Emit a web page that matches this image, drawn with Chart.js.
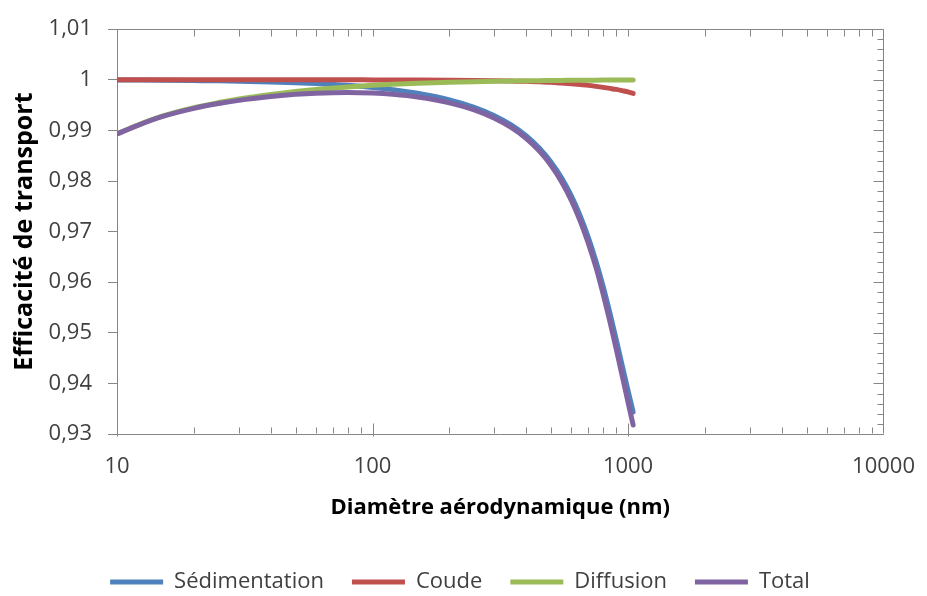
<!DOCTYPE html>
<html>
<head>
<meta charset="utf-8">
<script src="https://cdn.jsdelivr.net/npm/chart.js@4.4.1/dist/chart.umd.min.js"></script>
<style>
  html, body { margin: 0; padding: 0; background: #fff; }
  #wrap { width: 927px; height: 596px; }
</style>
</head>
<body>
<div id="wrap"><canvas id="chart" width="927" height="596"></canvas></div>
<script>
// diamètre aérodynamique (nm) and transport efficiencies
const diameters = [10, 12, 15, 20, 25, 30, 40, 50, 60, 80, 100, 120, 150, 200, 250, 300, 350, 400, 450, 500, 550, 600, 650, 700, 750, 800, 850, 900, 950, 1000, 1047];
const sedimentation = [0.99997, 0.99995, 0.99991, 0.99985, 0.9998, 0.99973, 0.99958, 0.99943, 0.99926, 0.9989, 0.9985, 0.99806, 0.99735, 0.99604, 0.99457, 0.99291, 0.99104, 0.9889, 0.98647, 0.98372, 0.98059, 0.97706, 0.97311, 0.96877, 0.96406, 0.95905, 0.95382, 0.94854, 0.94344, 0.93859, 0.93435];
const coude = [1, 1, 1, 1, 1, 1, 1, 1, 1, 1, 0.99998, 0.99997, 0.99995, 0.9999, 0.99985, 0.9998, 0.99975, 0.9997, 0.9996, 0.9995, 0.99935, 0.9992, 0.99905, 0.9989, 0.9987, 0.9985, 0.9983, 0.9981, 0.99785, 0.9976, 0.9973];
const diffusion = [0.9893, 0.991, 0.9928, 0.9945, 0.9955, 0.9962, 0.9971, 0.9977, 0.9981, 0.9986, 0.9989, 0.9991, 0.9993, 0.9995, 0.99962, 0.9997, 0.99976, 0.9998, 0.99983, 0.99986, 0.99988, 0.9999, 0.99991, 0.99992, 0.99993, 0.99994, 0.99995, 0.99995, 0.99996, 0.99996, 0.99996];
const total = [0.9893, 0.99095, 0.99271, 0.99435, 0.9953, 0.99593, 0.99668, 0.99713, 0.99736, 0.9975, 0.99738, 0.99713, 0.9966, 0.99544, 0.99404, 0.99241, 0.99055, 0.9884, 0.9859, 0.98308, 0.97982, 0.97618, 0.9721, 0.96762, 0.96284, 0.95755, 0.95215, 0.94669, 0.94137, 0.9363, 0.93179];

const seriesNames = ['Sédimentation', 'Coude', 'Diffusion', 'Total'];
const xTicks = [10, 100, 1000, 10000];
const yTicks = [0.93, 0.94, 0.95, 0.96, 0.97, 0.98, 0.99, 1, 1.01];

const FONT = "'Open Sans', 'DejaVu Sans', sans-serif";
const AXIS = '#868686';
const colours = ['#4F81BD', '#C0504D', '#9BBB59', '#8064A2'];

const points = (ys) => diameters.map((d, i) => ({ x: d, y: ys[i] }));

// frame on top/right plus the small inward tick marks Excel draws
const frame = {
    id: 'frame',
    beforeDatasetsDraw(chart) {
        const { ctx, chartArea: { left, right, top, bottom } } = chart;
        const xs = chart.scales.x, ys = chart.scales.y;
        const r = Math.round(right) - 0.5, t = Math.round(top) + 0.5, b = Math.round(bottom) - 0.5;
        ctx.save();
        ctx.strokeStyle = AXIS;
        ctx.lineWidth = 1;
        ctx.beginPath();
        ctx.moveTo(left, t); ctx.lineTo(r, t); ctx.lineTo(r, b);
        for (let e = 1; e <= 3; e++) {
            for (let k = 1; k <= 9; k++) {
                const px = Math.round(xs.getPixelForValue(k * Math.pow(10, e))) + 0.5;
                const major = k === 1;
                ctx.moveTo(px, b + (major ? 3 : 0)); ctx.lineTo(px, b - (major ? 10 : 6));
                ctx.moveTo(px, t); ctx.lineTo(px, t + 7);
            }
        }
        for (let i = 0; i <= 40; i++) {
            const py = Math.round(ys.getPixelForValue(0.93 + i * 0.002)) + 0.5;
            ctx.moveTo(r, py); ctx.lineTo(r - (i % 5 === 0 ? 10 : 6), py);
        }
        ctx.stroke();
        ctx.restore();
    }
};

const ctx = document.getElementById('chart').getContext('2d');
new Chart(ctx, {
    type: 'line',
    data: {
        datasets: [sedimentation, coude, diffusion, total].map((ys, i) => ({
            label: seriesNames[i],
            data: points(ys),
            borderColor: colours[i],
            backgroundColor: colours[i],
            borderWidth: 5,
            borderCapStyle: 'round',
            pointRadius: 0,
            pointHoverRadius: 0,
            cubicInterpolationMode: 'monotone',
            fill: false,
            order: 3 - i,
        })),
    },
    options: {
        responsive: false,
        animation: false,
        layout: { padding: { left: 10, right: 17, top: 19, bottom: -7 } },
        plugins: {
            tooltip: { enabled: false },
            legend: {
                position: 'bottom',
                labels: {
                    usePointStyle: true,
                    pointStyle: 'line',
                    pointStyleWidth: 53,
                    boxHeight: 22,
                    padding: 28,
                    color: '#404040',
                    font: { family: FONT, size: 22 },
                    sort: (a, b) => a.datasetIndex - b.datasetIndex,
                },
            },
        },
        scales: {
            x: {
                type: 'logarithmic',
                min: 10,
                max: 10000,
                afterBuildTicks: (scale) => { scale.ticks = xTicks.map(v => ({ value: v })); },
                afterFit: (scale) => { scale.height = 109; },
                grid: { display: false },
                border: { display: true, color: AXIS },
                ticks: {
                    padding: 12,
                    color: '#404040',
                    font: { family: FONT, size: 22 },
                    maxRotation: 0,
                    autoSkip: false,
                    callback: (v) => String(v),
                },
                title: {
                    display: true,
                    text: 'Diamètre aérodynamique (nm)',
                    color: '#000',
                    font: { family: FONT, size: 22, weight: 'bold' },
                    padding: { top: 0, bottom: 22 },
                },
            },
            y: {
                min: 0.93,
                max: 1.01,
                afterBuildTicks: (scale) => { scale.ticks = yTicks.map(v => ({ value: v })); },
                afterFit: (scale) => { scale.width = 107; },
                grid: { display: true, drawOnChartArea: false, drawTicks: true, tickLength: 9, color: AXIS },
                border: { display: true, color: AXIS },
                ticks: {
                    padding: 16,
                    color: '#404040',
                    font: { family: FONT, size: 22 },
                    callback: (v) => String(Number(v.toFixed(2))).replace('.', ','),
                },
                title: {
                    display: true,
                    text: 'Efficacité de transport',
                    color: '#000',
                    font: { family: FONT, size: 25, weight: 'bold' },
                    padding: { top: 0, bottom: 0 },
                },
            },
            // empty right-hand spacer so the legend sits centred like the original
            spacer: {
                position: 'right',
                display: true,
                afterFit: (scale) => { scale.width = 24; },
                grid: { display: false },
                border: { display: false },
                ticks: { display: false },
            },
        },
    },
    plugins: [frame],
});
</script>
</body>
</html>
